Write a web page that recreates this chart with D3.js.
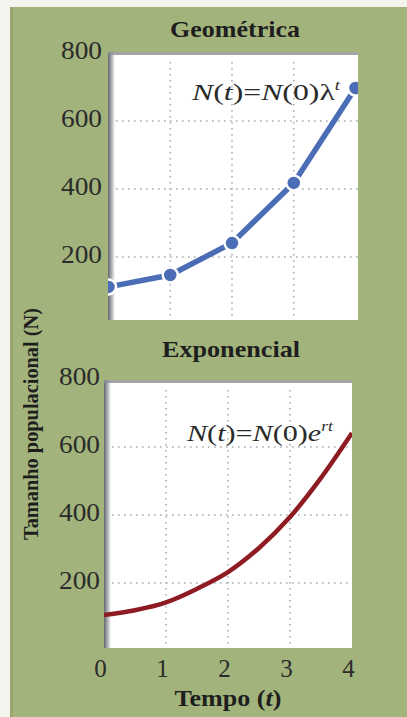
<!DOCTYPE html>
<html>
<head>
<meta charset="utf-8">
<script src="https://cdn.jsdelivr.net/npm/d3@7"></script>
<style>
  html, body { margin: 0; padding: 0; background: #ffffff; }
  svg { display: block; }
</style>
</head>
<body>
<svg id="chart" width="407" height="717"></svg>
<script>
// ---- data ----
const timeTicks = [0, 1, 2, 3, 4];
const yTicks = [200, 400, 600, 800];
const geomT = [0, 1, 2, 3, 4];
const geomN = [112, 147, 241, 418, 697];
const expT = [0, 0.5, 1, 1.5, 2, 2.5, 3, 3.5, 4];
const expN = [106, 120, 143, 183, 232, 303, 394, 509, 641];
const titles = ["Geométrica", "Exponencial"];

(function () {
const svg = d3.select("#chart");
const bg = "#a2b47b";
const serif = "'Liberation Serif', 'DejaVu Serif', serif";

// background (scanned page)
svg.append("rect").attr("x", 0).attr("y", 0).attr("width", 407).attr("height", 717).attr("fill", "#f4f4ef");
svg.append("rect").attr("x", 10).attr("y", 7).attr("width", 397).attr("height", 710).attr("fill", bg);
svg.append("rect").attr("x", 10).attr("y", 7).attr("width", 3).attr("height", 710).attr("fill", "#8e9c6a").attr("opacity", 0.6);

const defs = svg.append("defs");
const grad = defs.append("linearGradient").attr("id", "shadeL").attr("x1", 0).attr("x2", 1).attr("y1", 0).attr("y2", 0);
grad.append("stop").attr("offset", "0%").attr("stop-color", "#62676d");
grad.append("stop").attr("offset", "55%").attr("stop-color", "#b4b7ba");
grad.append("stop").attr("offset", "100%").attr("stop-color", "#ffffff");

function panel(cfg) {
  const g = svg.append("g");
  const x = d3.scaleLinear().domain([0, 4]).range(cfg.xr);
  const y = d3.scaleLinear().domain([0, 800]).range(cfg.yr);
  const r = cfg.rect;
  const clipId = "clip" + cfg.id;
  defs.append("clipPath").attr("id", clipId).append("rect")
    .attr("x", r[0]).attr("y", r[1]).attr("width", r[2] - r[0]).attr("height", r[3] - r[1]);

  g.append("rect").attr("x", r[0]).attr("y", r[1]).attr("width", r[2] - r[0]).attr("height", r[3] - r[1]).attr("fill", "#ffffff");
  g.append("rect").attr("x", r[0]).attr("y", r[1]).attr("width", 7).attr("height", r[3] - r[1]).attr("fill", "url(#shadeL)");
  g.append("rect").attr("x", r[0]).attr("y", r[1]).attr("width", r[2] - r[0]).attr("height", 3).attr("fill", "#8a8e92").attr("opacity", 0.8);

  const grid = g.append("g").attr("clip-path", `url(#${clipId})`);
  grid.selectAll("line.v").data(timeTicks.slice(1, 4)).join("line")
    .attr("x1", d => x(d)).attr("x2", d => x(d)).attr("y1", r[1] + 10).attr("y2", r[3] - 4)
    .attr("stroke", "#a9abae").attr("stroke-width", 1.6).attr("stroke-dasharray", "1.6,4.4");
  grid.selectAll("line.h").data(yTicks.slice(0, 3)).join("line")
    .attr("x1", r[0] + 8).attr("x2", r[2]).attr("y1", d => y(d)).attr("y2", d => y(d))
    .attr("stroke", "#a9abae").attr("stroke-width", 1.6).attr("stroke-dasharray", "1.6,4.4");

  const ax = g.append("g").attr("transform", `translate(${cfg.labelX},0)`)
    .call(d3.axisLeft(y).tickValues(yTicks).tickSize(0).tickPadding(0));
  ax.select(".domain").remove();
  ax.selectAll("text").attr("font-family", serif).attr("font-size", 25).attr("fill", "#2b2b2b")
    .attr("dy", "0.33em").attr("transform", "translate(0,-3)")
    .attr("textLength", 41).attr("lengthAdjust", "spacingAndGlyphs");

  g.append("text").attr("x", cfg.titleX).attr("y", cfg.titleY).attr("text-anchor", "middle")
    .attr("font-family", serif).attr("font-weight", "bold").attr("font-size", 24).attr("fill", "#1e1e1e")
    .attr("textLength", cfg.titleW).attr("lengthAdjust", "spacingAndGlyphs")
    .text(cfg.title);

  return { g, x, y, clipId };
}

function formula(parent, x0, y0, w, parts) {
  const t = parent.append("text").attr("x", x0).attr("y", y0)
    .attr("font-family", serif).attr("font-size", 24).attr("fill", "#2a2a2a")
    .attr("textLength", w).attr("lengthAdjust", "spacingAndGlyphs");
  parts.forEach(p => {
    const s = t.append("tspan").text(p[0]);
    if (p[1]) s.attr("font-style", "italic");
    if (p[2]) s.attr("font-size", 14).attr("dy", -10);
  });
}

// ---- top panel: geometric ----
const pA = panel({ id: "A", xr: [108.5, 355.5], yr: [325, 53], rect: [108, 52, 358, 320],
  labelX: 102, titleX: 235, titleY: 37, titleW: 130, title: titles[0] });
const topData = geomT.map((t, i) => ({ t, n: geomN[i] }));
const tg = pA.g.append("g").attr("clip-path", `url(#${pA.clipId})`);
tg.append("path").datum(topData)
  .attr("d", d3.line().x(d => pA.x(d.t)).y(d => pA.y(d.n)))
  .attr("fill", "none").attr("stroke", "#4a6db5").attr("stroke-width", 5.5).attr("stroke-linecap", "round");
tg.selectAll("circle").data(topData).join("circle")
  .attr("cx", d => pA.x(d.t)).attr("cy", d => pA.y(d.n)).attr("r", 7.5)
  .attr("fill", "#4a6db5").attr("stroke", "#ffffff").attr("stroke-width", 2.5);

formula(pA.g, 192, 100, 148, [["N", 1], ["("], ["t", 1], [")="], ["N", 1], ["(0)λ"], ["t", 1, 1]]);

// ---- bottom panel: exponential ----
const pB = panel({ id: "B", xr: [104, 352], yr: [651, 379], rect: [104, 380, 352, 648],
  labelX: 100, titleX: 231, titleY: 357, titleW: 138, title: titles[1] });
const botData = expT.map((t, i) => ({ t, n: expN[i] }));
pB.g.append("g").attr("clip-path", `url(#${pB.clipId})`).append("path").datum(botData)
  .attr("d", d3.line().curve(d3.curveCatmullRom).x(d => pB.x(d.t)).y(d => pB.y(d.n)))
  .attr("fill", "none").attr("stroke", "#8e1b22").attr("stroke-width", 4.5);

formula(pB.g, 187, 441, 146, [["N", 1], ["("], ["t", 1], [")="], ["N", 1], ["(0)"], ["e", 1], ["rt", 1, 1]]);

const xa = svg.append("g").attr("transform", "translate(-4,669)")
  .call(d3.axisBottom(pB.x).tickValues(timeTicks).tickSize(0).tickPadding(0).tickFormat(d3.format("d")));
xa.select(".domain").remove();
xa.selectAll("text").attr("font-family", serif).attr("font-size", 25).attr("fill", "#2b2b2b").attr("dy", "0.33em");

const xt = svg.append("text").attr("x", 228).attr("y", 706).attr("text-anchor", "middle")
  .attr("font-family", serif).attr("font-weight", "bold").attr("font-size", 23).attr("fill", "#1e1e1e")
  .attr("textLength", 107).attr("lengthAdjust", "spacingAndGlyphs");
xt.append("tspan").text("Tempo (");
xt.append("tspan").attr("font-style", "italic").text("t");
xt.append("tspan").text(")");

svg.append("text").attr("transform", "translate(38,424) rotate(-90)").attr("text-anchor", "middle")
  .attr("font-family", serif).attr("font-weight", "bold").attr("font-size", 22).attr("fill", "#1e1e1e")
  .attr("textLength", 232).attr("lengthAdjust", "spacingAndGlyphs")
  .text("Tamanho populacional (N)");
})();
</script>
</body>
</html>
